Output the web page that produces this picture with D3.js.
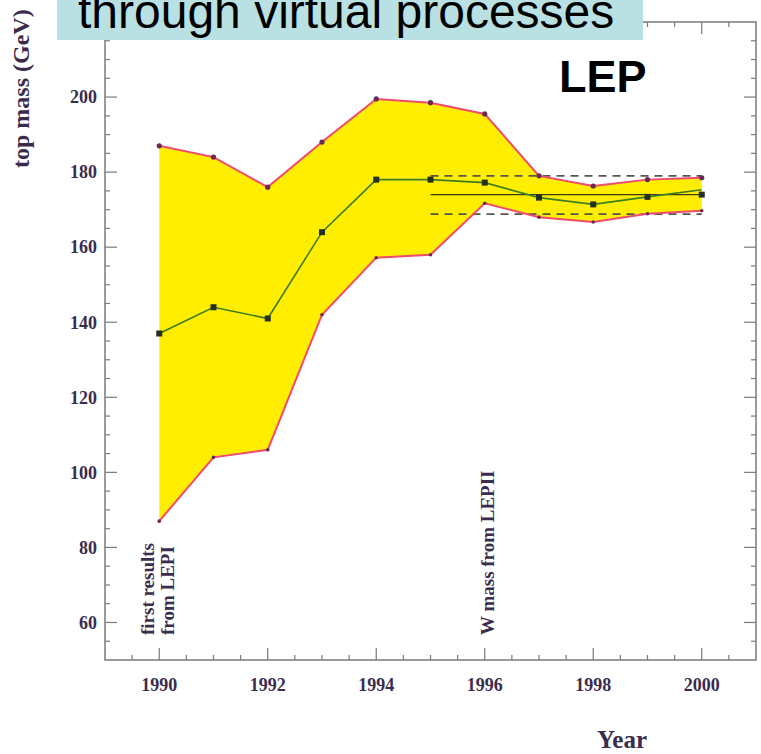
<!DOCTYPE html>
<html>
<head>
<meta charset="utf-8">
<script src="https://cdn.jsdelivr.net/npm/d3@7"></script>
<style>
  html, body { margin: 0; padding: 0; background: #fff; }
  svg { display: block; }
</style>
</head>
<body>
<div id="chart"></div>
<script>
// Top quark mass predicted from precision electroweak fits, by year
const years   = [1990, 1991, 1992, 1993, 1994, 1995, 1996, 1997, 1998, 1999, 2000];
const upper   = [187, 184, 176, 188, 199.5, 198.5, 195.5, 179, 176.3, 178, 178.5];
const central = [137, 144, 141, 164, 178, 178, 177.2, 173.2, 171.4, 173.4, 175.3];
const lower   = [87, 104, 106, 142, 157.2, 158, 171.7, 168, 166.7, 168.9, 169.7];

// Direct measurement band (mean and ±1σ), drawn from 1995 to 2000
const directYears = [1995, 2000];
const directMass  = 174;
const directHigh  = 179;
const directLow   = 168.8;

const xTicks = [1990, 1992, 1994, 1996, 1998, 2000];
const yTicks = [60, 80, 100, 120, 140, 160, 180, 200];

const W = 761, H = 754;
const svg = d3.select("#chart").append("svg").attr("width", W).attr("height", H);

const x = d3.scaleLinear().domain([1989, 2001]).range([105, 756]);
const y = d3.scaleLinear().domain([50, 220]).range([660, 22]);

const ink = "#3b2c4e";
const axisGrey = "#7a7a7a";
const serif = "'Liberation Serif', 'DejaVu Serif', serif";

// frame
svg.append("rect")
  .attr("x", x(1989)).attr("y", y(220))
  .attr("width", x(2001) - x(1989)).attr("height", y(50) - y(220))
  .attr("fill", "none").attr("stroke", axisGrey).attr("stroke-width", 1.5);

// ticks (all pointing inward)
const xMinor = d3.range(1989.5, 2001, 0.5).filter(v => !xTicks.includes(v));
const yMinor = d3.range(55, 220, 5).filter(v => !yTicks.includes(v));
const tickG = svg.append("g").attr("stroke", axisGrey).attr("stroke-width", 1.2);
function vt(list, len) {
  list.forEach(v => {
    tickG.append("line").attr("x1", x(v)).attr("x2", x(v)).attr("y1", y(50)).attr("y2", y(50) - len);
    tickG.append("line").attr("x1", x(v)).attr("x2", x(v)).attr("y1", y(220)).attr("y2", y(220) + len);
  });
}
function ht(list, len) {
  list.forEach(v => {
    tickG.append("line").attr("y1", y(v)).attr("y2", y(v)).attr("x1", x(1989)).attr("x2", x(1989) + len);
    tickG.append("line").attr("y1", y(v)).attr("y2", y(v)).attr("x1", x(2001)).attr("x2", x(2001) - len);
  });
}
vt(xTicks, 12); vt(xMinor, 5);
ht(yTicks, 12); ht(yMinor, 5);

// tick labels
svg.append("g").selectAll("text").data(yTicks).join("text")
  .attr("x", 97).attr("y", d => y(d)).attr("dy", "0.35em")
  .attr("text-anchor", "end")
  .attr("font-family", serif)
  .attr("font-weight", "bold").attr("font-size", 18).attr("fill", ink)
  .text(d => d);

svg.append("g").selectAll("text").data(xTicks).join("text")
  .attr("x", d => x(d)).attr("y", 691)
  .attr("text-anchor", "middle")
  .attr("font-family", serif)
  .attr("font-weight", "bold").attr("font-size", 18).attr("fill", ink)
  .text(d => d);

// axis titles
svg.append("text")
  .attr("transform", "translate(29,168) rotate(-90)")
  .attr("font-family", serif)
  .attr("font-weight", "bold").attr("font-size", 24).attr("fill", ink)
  .text("top mass (GeV)");

svg.append("text")
  .attr("x", 597).attr("y", 748)
  .attr("font-family", serif)
  .attr("font-weight", "bold").attr("font-size", 25).attr("fill", ink)
  .text("Year");

// band between upper and lower fit limits
const rows = years.map((yr, i) => ({ yr, hi: upper[i], mid: central[i], lo: lower[i] }));

svg.append("path").datum(rows)
  .attr("fill", "#ffee00")
  .attr("d", d3.area().x(d => x(d.yr)).y0(d => y(d.lo)).y1(d => y(d.hi)));

// direct measurement lines
const dm = svg.append("g");
[directHigh, directLow].forEach(v => {
  dm.append("line")
    .attr("x1", x(directYears[0])).attr("x2", x(directYears[1]))
    .attr("y1", y(v)).attr("y2", y(v))
    .attr("stroke", "#555").attr("stroke-width", 1.6).attr("stroke-dasharray", "8,6");
});
dm.append("line")
  .attr("x1", x(directYears[0])).attr("x2", x(directYears[1]))
  .attr("y1", y(directMass)).attr("y2", y(directMass))
  .attr("stroke", "#3d3a16").attr("stroke-width", 1.4);

// limit lines
const redLine = "#f04a6e";
svg.append("path").datum(rows)
  .attr("fill", "none").attr("stroke", redLine).attr("stroke-width", 2)
  .attr("d", d3.line().x(d => x(d.yr)).y(d => y(d.hi)));
svg.append("path").datum(rows)
  .attr("fill", "none").attr("stroke", redLine).attr("stroke-width", 2)
  .attr("d", d3.line().x(d => x(d.yr)).y(d => y(d.lo)));

// central fit line
svg.append("path").datum(rows)
  .attr("fill", "none").attr("stroke", "#3d7d22").attr("stroke-width", 1.6)
  .attr("d", d3.line().x(d => x(d.yr)).y(d => y(d.mid)));

// markers
svg.append("g").selectAll("circle").data(rows).join("circle")
  .attr("cx", d => x(d.yr)).attr("cy", d => y(d.hi)).attr("r", 2.6)
  .attr("fill", "#6b2a55");
svg.append("g").selectAll("circle").data(rows).join("circle")
  .attr("cx", d => x(d.yr)).attr("cy", d => y(d.lo)).attr("r", 1.8)
  .attr("fill", "#6b2a55");
svg.append("g").selectAll("rect").data(rows.filter(d => d.yr < 2000)).join("rect")
  .attr("x", d => x(d.yr) - 3).attr("y", d => y(d.mid) - 3)
  .attr("width", 6).attr("height", 6).attr("fill", "#24311f");
svg.append("rect")
  .attr("x", x(directYears[1]) - 3).attr("y", y(directMass) - 3)
  .attr("width", 6).attr("height", 6).attr("fill", "#24311f");

// vertical annotations
const notes = [
  { yr: 1990, dx: -12, lines: ["first results", "from LEPI"] },
  { yr: 1996, dx: 3, lines: ["W mass from LEPII"] }
];
notes.forEach(n => {
  n.lines.forEach((t, i) => {
    svg.append("text")
      .attr("transform", `translate(${x(n.yr) + n.dx + i * 20},635) rotate(-90)`)
      .attr("font-family", serif)
      .attr("font-weight", "bold").attr("font-size", 19).attr("fill", ink)
      .attr("dy", "0.35em")
      .text(t);
  });
});

// caption box and label
svg.append("rect")
  .attr("x", 57).attr("y", 0).attr("width", 586).attr("height", 40)
  .attr("fill", "#b9e1e4");
svg.append("text")
  .attr("x", 78).attr("y", 28)
  .attr("font-family", "'Liberation Sans', Arial, sans-serif")
  .attr("font-size", 48).attr("fill", "#000")
  .text("through virtual processes");

svg.append("text")
  .attr("x", 559).attr("y", 92)
  .attr("font-family", "'Liberation Sans', Arial, sans-serif")
  .attr("font-weight", "bold").attr("font-size", 45).attr("fill", "#000")
  .text("LEP");
</script>
</body>
</html>
